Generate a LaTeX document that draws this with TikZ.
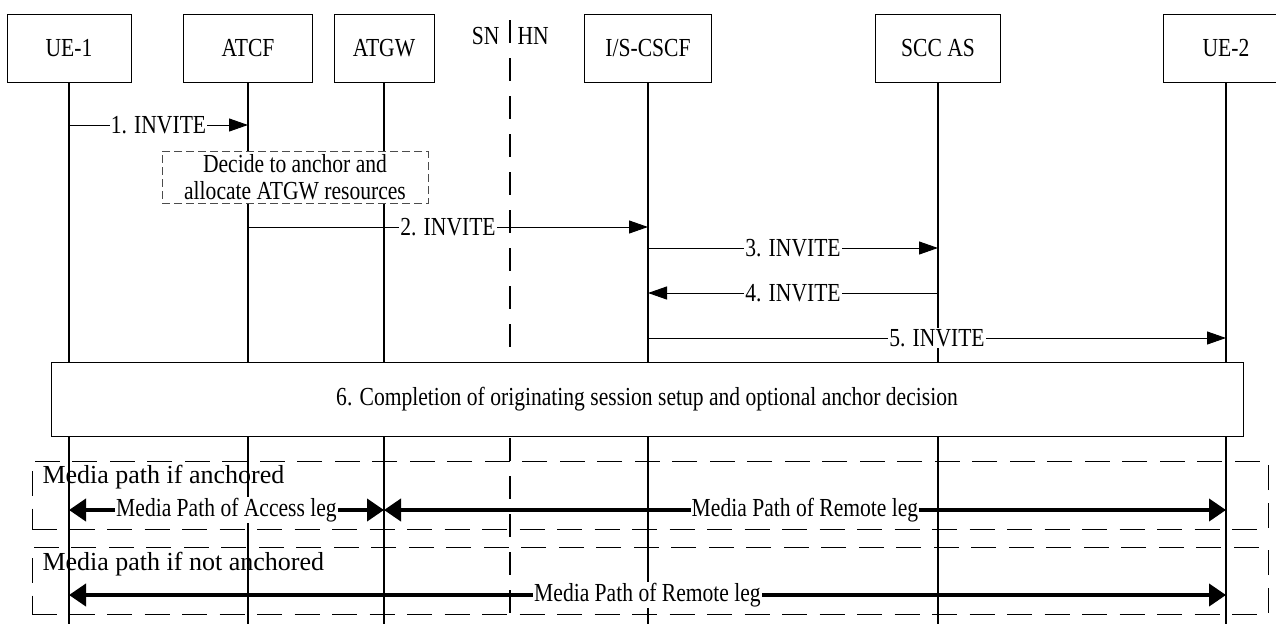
\documentclass[tikz,border=0pt]{standalone}
\usepackage{fontspec}
\setmainfont{Liberation Serif}[FakeStretch=0.83]
\newfontfamily\headfamily{Liberation Serif}
\usetikzlibrary{arrows.meta}

\begin{document}
\begin{tikzpicture}[
    x=1pt, y=-1pt,
    line width=1pt,
    entity/.style={draw, minimum width=124pt, minimum height=68pt,
        font=\fontsize{26}{28}\selectfont},
    lifeline/.style={line width=1.1pt},
    msg/.style={-{Triangle[length=19pt,width=13pt]}, line width=1pt},
    msglabel/.style={fill=white, inner sep=1pt, font=\fontsize{26}{28}\selectfont},
    note/.style={draw=black!70, dash pattern=on 8pt off 4pt, fill=white,
        align=center, font=\fontsize{26}{27}\selectfont},
    bigbox/.style={draw, fill=white, font=\fontsize{26}{28}\selectfont},
    border/.style={line width=1.3pt, dash pattern=on 23pt off 15pt},
    mediabox/.style={draw, line width=1pt, dash pattern=on 25pt off 12.5pt},
    mediahead/.style={anchor=base west, inner sep=0pt,
        font=\headfamily\fontsize{26}{28}\selectfont},
    media/.style={{Triangle[length=17pt,width=22pt]}-{Triangle[length=17pt,width=22pt]},
        line width=4pt},
    ]

    \useasboundingbox (0,0) rectangle (1276,624);
    \clip (0,0) rectangle (1276,624);

    % entities
    \node[entity] (ue1) at (69,48) {UE-1};
    \node[entity, minimum width=129pt] (atcf) at (248,48) {ATCF};
    \node[entity, minimum width=100pt] (atgw) at (384,48) {ATGW};
    \node[entity, minimum width=127pt] (iscscf) at (648,48) {I/S-CSCF};
    \node[entity, minimum width=125pt] (sccas) at (938,48) {SCC AS};
    \node[entity, minimum width=126pt] (ue2) at (1226,48) {UE-2};

    % lifelines
    \foreach \n in {ue1,atcf,atgw,iscscf,sccas,ue2}
        \draw[lifeline] (\n.south) -- (\n.south |- 0,624);

    % SN / HN border
    \coordinate (sep-top) at (510,20);
    \coordinate (sep-end) at (510,624);
    \draw[border] (sep-top) -- (sep-end);
    \node[anchor=east, inner sep=0pt, font=\fontsize{26}{28}\selectfont] (sn) at (500,36) {SN};
    \node[anchor=west, inner sep=0pt, font=\fontsize{26}{28}\selectfont] (hn) at (517,36) {HN};

    % 1
    \draw[msg] (ue1.south |- 0,125) -- node[msglabel] {1. INVITE} (atcf.south |- 0,125);

    % decision at ATCF
    \node[note, minimum width=266pt, minimum height=49pt] (decide) at (295,177.5)
        {Decide to anchor and\\allocate ATGW resources};

    % 2 - 5
    \draw[msg] (atcf.south |- 0,227) -- node[msglabel] {2. INVITE} (iscscf.south |- 0,227);
    \draw[msg] (iscscf.south |- 0,248) -- node[msglabel] {3. INVITE} (sccas.south |- 0,248);
    \draw[msg] (sccas.south |- 0,293) -- node[msglabel] {4. INVITE} (iscscf.south |- 0,293);
    \draw[msg] (iscscf.south |- 0,338) -- node[msglabel] {5. INVITE} (ue2.south |- 0,338);

    % 6
    \node[bigbox, minimum width=1192pt, minimum height=74pt] (compl) at (647,399)
        {6. Completion of originating session setup and optional anchor decision};

    % Media path if anchored
    \node[mediabox, minimum width=1236pt, minimum height=68pt] (anch) at (650,495) {};
    \node[mediahead] (anch-head) at (42,483) {Media path if anchored};
    \draw[media] (ue1.south |- 0,510) -- node[msglabel] {Media Path of Access leg} (atgw.south |- 0,510);
    \draw[media] (atgw.south |- 0,510) -- node[msglabel] {Media Path of Remote leg} (ue2.south |- 0,510);

    % Media path if not anchored
    \node[mediabox, minimum width=1236pt, minimum height=67pt] (noanch) at (650,580.5) {};
    \node[mediahead] (noanch-head) at (42,570) {Media path if not anchored};
    \draw[media] (ue1.south |- 0,595) -- node[msglabel] {Media Path of Remote leg} (ue2.south |- 0,595);

\end{tikzpicture}
\end{document}
